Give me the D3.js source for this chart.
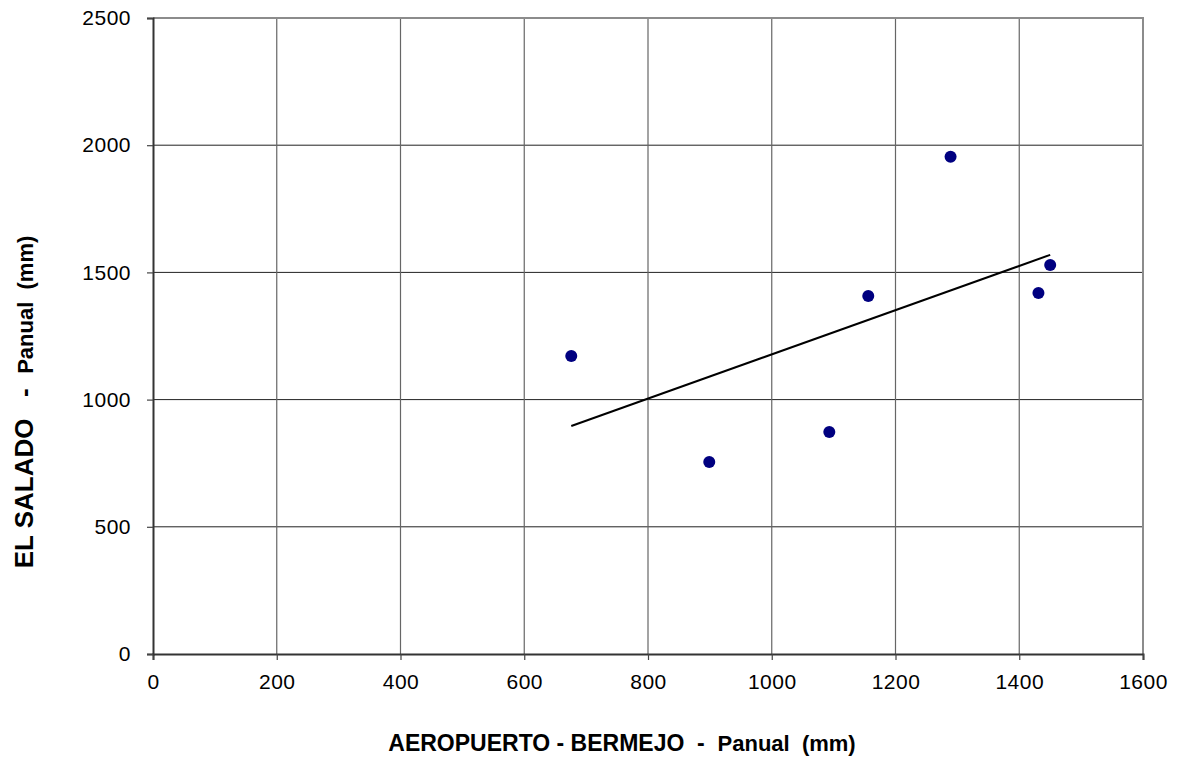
<!DOCTYPE html>
<html>
<head>
<meta charset="utf-8">
<script src="https://cdn.jsdelivr.net/npm/d3@7"></script>
<style>
  body { margin: 0; background: #fff; }
  text { font-family: Arial, "Liberation Sans", sans-serif; }
</style>
</head>
<body>
<svg id="chart" width="1178" height="762"></svg>
<script>
// annual rainfall pairs (mm)
var bermejo = [676, 899, 1093, 1156, 1289, 1431, 1450];
var salado  = [1171, 755, 873, 1407, 1955, 1419, 1529];
var xTicks = [0, 200, 400, 600, 800, 1000, 1200, 1400, 1600];
var yTicks = [0, 500, 1000, 1500, 2000, 2500];

var pLeft = 153, pRight = 1143, pTop = 18, pBottom = 654;

var svg = d3.select('#chart');

var x = d3.scaleLinear().domain([0, 1600]).range([pLeft, pRight]);
var y = d3.scaleLinear().domain([0, 2500]).range([pBottom, pTop]);

// grid
svg.append('g')
    .selectAll('line')
    .data(yTicks.slice(1, -1))
    .enter().append('line')
        .attr('x1', pLeft).attr('x2', pRight)
        .attr('y1', function(d) { return y(d); })
        .attr('y2', function(d) { return y(d); })
        .attr('stroke', '#222')
        .attr('stroke-width', 1);

svg.append('g')
    .selectAll('line')
    .data(xTicks.slice(1, -1))
    .enter().append('line')
        .attr('x1', function(d) { return x(d); })
        .attr('x2', function(d) { return x(d); })
        .attr('y1', pTop).attr('y2', pBottom)
        .attr('stroke', '#666')
        .attr('stroke-width', 1.2);

// top and right border
svg.append('path')
    .attr('d', 'M' + pLeft + ',' + pTop + 'H' + pRight + 'V' + pBottom)
    .attr('fill', 'none')
    .attr('stroke', '#8c8c8c')
    .attr('stroke-width', 2);

// axes
var xAxis = svg.append('g')
    .attr('transform', 'translate(0,' + pBottom + ')')
    .call(d3.axisBottom(x).tickValues(xTicks).tickSize(6).tickPadding(14).tickFormat(d3.format('d')));

var yAxis = svg.append('g')
    .attr('transform', 'translate(' + pLeft + ',0)')
    .call(d3.axisLeft(y).tickValues(yTicks).tickSize(6).tickPadding(16).tickFormat(d3.format('d')));

[xAxis, yAxis].forEach(function(g) {
    g.select('.domain').attr('stroke', '#333').attr('stroke-width', 2);
    g.selectAll('.tick line').attr('stroke', '#444').attr('stroke-width', 1.2);
    g.selectAll('.tick text')
        .attr('fill', '#000')
        .style('font-size', '21px')
        .style('letter-spacing', '0.5px')
        .style('font-family', 'Arial, "Liberation Sans", sans-serif');
});

// least squares trend line
var mx = d3.mean(bermejo), my = d3.mean(salado);
var sxy = d3.sum(bermejo, function(v, i) { return (v - mx) * (salado[i] - my); });
var sxx = d3.sum(bermejo, function(v) { return (v - mx) * (v - mx); });
var slope = sxy / sxx, icpt = my - slope * mx;
var ext = d3.extent(bermejo);

svg.append('path')
    .datum(ext)
    .attr('d', d3.line()
        .x(function(d) { return x(d); })
        .y(function(d) { return y(icpt + slope * d); }))
    .attr('fill', 'none')
    .attr('stroke', '#000')
    .attr('stroke-width', 2);

// points
svg.append('g')
    .selectAll('circle')
    .data(bermejo)
    .enter().append('circle')
        .attr('cx', function(d) { return x(d); })
        .attr('cy', function(d, i) { return y(salado[i]); })
        .attr('r', 6)
        .attr('fill', '#000080');

// axis titles
var xt = svg.append('text')
    .attr('x', 622)
    .attr('y', 751)
    .attr('text-anchor', 'middle')
    .style('font-weight', 'bold')
    .style('white-space', 'pre')
    .style('font-size', '23px');
xt.append('tspan').text('AEROPUERTO - BERMEJO  -  ');
xt.append('tspan').style('font-size', '22px').text('Panual  (mm)');

var yt = svg.append('text')
    .attr('transform', 'translate(33,402) rotate(-90)')
    .attr('text-anchor', 'middle')
    .style('font-weight', 'bold')
    .style('white-space', 'pre')
    .style('font-size', '26px');
yt.append('tspan').text('EL SALADO   -  ');
yt.append('tspan').style('font-size', '22px').text('Panual  (mm)');
</script>
</body>
</html>
